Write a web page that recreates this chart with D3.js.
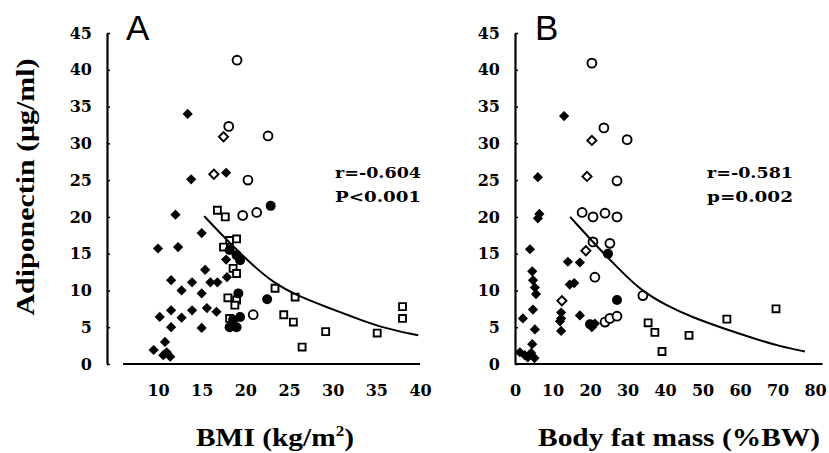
<!DOCTYPE html>
<html>
<head>
<meta charset="utf-8">
<script src="https://cdn.jsdelivr.net/npm/d3@7"></script>
<style>
  body { margin: 0; background: #fff; }
  svg { display: block; }
  .tick text { font-family: "DejaVu Serif", serif; font-weight: bold; font-size: 16px; fill: #000; }
</style>
</head>
<body>
<div id="container"></div>
<script>
// ---------------- DATA ----------------
// Panel A: BMI (kg/m2) vs adiponectin (ug/ml)
const bmiFilledDiamonds = [[13.4,34.0],[13.8,25.1],[17.8,26.0],[12.0,20.3],[15.0,17.8],[10.0,15.7],[12.3,15.9],
  [17.8,14.2],[15.4,12.8],[16.0,11.1],[16.8,11.1],[17.9,11.8],[11.5,11.4],[13.9,11.1],[12.7,10.0],[15.0,9.6],
  [11.5,7.3],[10.2,6.4],[13.9,7.3],[12.7,6.3],[11.5,5.0],[15.0,4.9],[15.6,7.6],[16.7,7.1],[9.5,1.9],[10.8,3.0],
  [10.6,1.2],[11.4,1.0],[11.0,1.6]];
const bmiFilledCircles = [[22.9,21.5],[22.5,8.8],[19.2,9.6],[18.6,6.0],[19.4,6.4],[19.0,5.0],[18.2,5.0],
  [18.2,15.5],[19.0,14.8],[19.4,14.1]];
const bmiOpenDiamonds = [[17.5,30.9],[16.4,25.8]];
const bmiOpenCircles = [[19.05,41.3],[18.1,32.3],[22.6,31.0],[20.3,25.0],[19.7,20.2],[21.3,20.6],[20.9,6.7]];
const bmiOpenSquares = [[16.8,20.9],[17.7,20.0],[18.2,16.8],[19.0,17.0],[17.5,15.9],[18.6,13.0],[19.0,12.3],
  [18.0,9.0],[19.0,8.7],[18.8,8.0],[18.2,6.2],[23.4,10.3],[25.7,9.1],[24.4,6.7],[25.5,5.7],[26.5,2.3],
  [29.2,4.4],[35.1,4.2],[38.0,7.8],[38.0,6.2]];
const bmiFitCurve = [[15.3,20.1],[17.1,17.8],[20.2,14.1],[23.2,11.0],[26.3,9.1],[29.4,7.7],[32.3,6.4],
  [35.4,5.0],[39.8,3.9]];
const bmiTicks = [10, 15, 20, 25, 30, 35, 40];

// Panel B: body fat mass (%BW) vs adiponectin (ug/ml)
const fatFilledDiamonds = [[13.1,33.7],[6.1,25.4],[6.1,19.8],[6.5,20.4],[4.0,15.6],[14.1,13.9],[17.3,13.8],
  [4.6,12.6],[4.8,11.4],[5.3,10.4],[5.6,9.5],[14.6,10.8],[15.8,11.0],[12.3,7.0],[12.3,6.2],[17.3,6.6],
  [12.3,4.5],[2.1,6.2],[4.8,7.4],[5.3,4.7],[4.6,2.7],[1.3,1.6],[2.6,1.2],[3.4,0.9],[5.2,0.8],[4.3,1.5],
  [20.5,5.0],[21.3,5.5],[12.0,5.8]];
const fatFilledCircles = [[24.8,15.0],[27.2,8.7],[20.0,5.4]];
const fatOpenDiamonds = [[19.2,25.5],[18.9,15.4],[12.5,8.6],[20.5,30.4]];
const fatOpenCircles = [[20.5,40.9],[23.7,32.1],[29.9,30.5],[27.2,24.9],[17.9,20.6],[20.8,20.0],[24.0,20.5],
  [27.2,20.0],[20.8,16.6],[25.3,16.4],[21.3,11.8],[24.0,5.7],[25.3,6.2],[27.2,6.5],[34.1,9.3]];
const fatOpenSquares = [[35.5,5.6],[37.3,4.3],[39.2,1.7],[46.4,3.9],[56.5,6.1],[69.6,7.5]];
const fatFitCurve = [[14.7,20.0],[22.7,15.5],[28.0,12.8],[33.3,10.1],[40.5,7.9],[47.5,6.3],[54.7,5.0],
  [63.5,3.5],[70.7,2.4],[77.3,1.7]];
const fatTicks = [0, 10, 20, 30, 40, 50, 60, 70, 80];

const adipoTicks = [0, 5, 10, 15, 20, 25, 30, 35, 40, 45];

//------------------------SVG------------------------//
const width = 829;
const height = 453;
const serif = '"DejaVu Serif", serif';

const svg = d3.select('div#container').append('svg')
  .attr('width', width)
  .attr('height', height)
  .style('background', '#fff');

const y = d3.scaleLinear().domain([0, 45]).range([364, 33]);

function panel(opt) {
  const x = opt.x;
  const g = svg.append('g');

  // y axis (ticks point inward)
  const yAxis = g.append('g')
    .attr('transform', `translate(${opt.yAxisX},0)`)
    .call(d3.axisLeft(y).tickValues(adipoTicks).tickSizeInner(-3).tickSizeOuter(0).tickPadding(15));
  yAxis.select('.domain').attr('stroke', '#000').attr('stroke-width', 2.2);
  yAxis.selectAll('.tick line').attr('stroke', '#000').attr('stroke-width', 1.5);

  // x axis: line drawn on its own, labels from the axis
  g.append('line')
    .attr('x1', x(opt.xLine[0])).attr('x2', x(opt.xLine[1]))
    .attr('y1', y(0)).attr('y2', y(0))
    .attr('stroke', '#000').attr('stroke-width', 2.2);
  const xAxis = g.append('g')
    .attr('transform', `translate(0,${y(0)})`)
    .call(d3.axisBottom(x).tickValues(opt.ticks).tickSize(0).tickPadding(21));
  xAxis.select('.domain').remove();

  // markers
  const sq = d3.symbol().type(d3.symbolSquare);
  const ci = d3.symbol().type(d3.symbolCircle);
  const pos = (d) => `translate(${x(d[0])},${y(d[1])})`;

  g.selectAll('.osq').data(opt.openSquares).join('path')
    .attr('d', sq.size(48)()).attr('transform', pos)
    .attr('fill', '#fff').attr('stroke', '#000').attr('stroke-width', 1.9);
  g.selectAll('.oci').data(opt.openCircles).join('path')
    .attr('d', ci.size(62)()).attr('transform', pos)
    .attr('fill', '#fff').attr('stroke', '#000').attr('stroke-width', 1.9);
  g.selectAll('.odi').data(opt.openDiamonds).join('path')
    .attr('d', sq.size(42)()).attr('transform', (d) => pos(d) + ' rotate(45)')
    .attr('fill', '#fff').attr('stroke', '#000').attr('stroke-width', 1.9);
  g.selectAll('.fdi').data(opt.filledDiamonds).join('path')
    .attr('d', sq.size(52)()).attr('transform', (d) => pos(d) + ' rotate(45)')
    .attr('fill', '#000');
  g.selectAll('.fci').data(opt.filledCircles).join('path')
    .attr('d', ci.size(78)()).attr('transform', pos)
    .attr('fill', '#000');

  // fitted curve
  g.append('path')
    .datum(opt.curve)
    .attr('d', d3.line().x((d) => x(d[0])).y((d) => y(d[1])).curve(d3.curveBasis))
    .attr('fill', 'none').attr('stroke', '#000').attr('stroke-width', 2);

  // panel letter
  g.append('text')
    .attr('x', opt.letterX).attr('y', 40)
    .style('font-family', '"Liberation Sans", Arial, sans-serif')
    .style('font-size', '35px')
    .text(opt.letter);

  // statistics
  opt.stats.forEach((s, i) => {
    g.append('text')
      .attr('x', opt.statsX).attr('y', 178 + i * 24)
      .attr('textLength', 86).attr('lengthAdjust', 'spacingAndGlyphs')
      .style('font-family', serif).style('font-weight', 'bold').style('font-size', '15px')
      .text(s);
  });

  // x title
  g.append('text')
    .attr('x', opt.titleX).attr('y', 446)
    .attr('textLength', opt.titleLen).attr('lengthAdjust', 'spacingAndGlyphs')
    .style('font-family', '"Liberation Serif", "Times New Roman", serif')
    .style('font-weight', 'bold').style('font-size', '26px')
    .html(opt.title);
}

panel({
  x: d3.scaleLinear().domain([10, 40]).range([158, 420]),
  yAxisX: 107,
  xLine: [6, 40],
  ticks: bmiTicks,
  filledDiamonds: bmiFilledDiamonds,
  filledCircles: bmiFilledCircles,
  openDiamonds: bmiOpenDiamonds,
  openCircles: bmiOpenCircles,
  openSquares: bmiOpenSquares,
  curve: bmiFitCurve,
  letter: 'A', letterX: 126,
  stats: ['r=-0.604', 'P<0.001'], statsX: 335,
  title: 'BMI (kg/m<tspan dy="-10" font-size="15">2</tspan><tspan dy="10">)</tspan>',
  titleX: 196, titleLen: 158
});

panel({
  x: d3.scaleLinear().domain([0, 80]).range([515, 815]),
  yAxisX: 515,
  xLine: [0, 82],
  ticks: fatTicks,
  filledDiamonds: fatFilledDiamonds,
  filledCircles: fatFilledCircles,
  openDiamonds: fatOpenDiamonds,
  openCircles: fatOpenCircles,
  openSquares: fatOpenSquares,
  curve: fatFitCurve,
  letter: 'B', letterX: 535,
  stats: ['r=-0.581', 'p=0.002'], statsX: 707,
  title: 'Body fat mass (%BW)',
  titleX: 538, titleLen: 282
});

// y title
svg.append('text')
  .attr('transform', 'translate(34,187) rotate(-90)')
  .attr('text-anchor', 'middle')
  .attr('textLength', 257).attr('lengthAdjust', 'spacingAndGlyphs')
  .style('font-family', '"Liberation Serif", "Times New Roman", serif')
  .style('font-weight', 'bold').style('font-size', '26px')
  .text('Adiponectin (\u03bcg/ml)');
</script>
</body>
</html>
